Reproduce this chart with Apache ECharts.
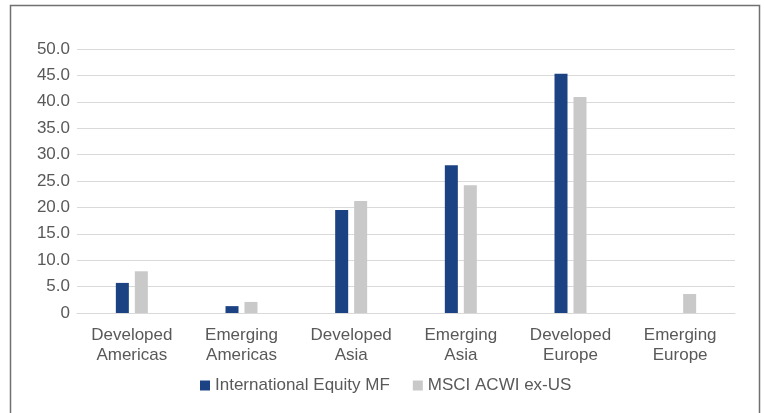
<!DOCTYPE html>
<html>
<head>
<meta charset="utf-8">
<script src="https://cdn.jsdelivr.net/npm/echarts@6/dist/echarts.min.js"></script>
<style>
  html, body { margin: 0; padding: 0; background: #fff; }
  #main { width: 765px; height: 413px; }
</style>
</head>
<body>
<div id="main"></div>
<script>
// 地区
var regions = ["Developed\nAmericas", "Emerging\nAmericas", "Developed\nAsia", "Emerging\nAsia", "Developed\nEurope", "Emerging\nEurope"];
// 系列数据
var equityMF = [5.7, 1.3, 19.5, 28.0, 45.3, 0];
var msciAcwi = [7.9, 2.1, 21.2, 24.2, 40.9, 3.6];
var seriesNames = ["International Equity MF", "MSCI ACWI ex-US"];

var myChart = echarts.init(document.getElementById("main"));
var font = "'Liberation Sans', Arial, sans-serif";
var option = {
  animation: false,
  textStyle: { fontFamily: font },
  graphic: [
    {
      type: "rect",
      shape: { x: 10.5, y: 5.5, width: 749, height: 430 },
      style: { fill: "none", stroke: "#707070", lineWidth: 1.5 },
      silent: true
    }
  ],
  legend: {
    left: 195,
    top: 372,
    itemWidth: 10,
    itemHeight: 10,
    itemGap: 23,
    icon: "rect",
    data: seriesNames,
    textStyle: { color: "#595959", fontSize: 17, fontFamily: font }
  },
  grid: {
    left: 77,
    right: 30,
    top: 49,
    bottom: 100
  },
  xAxis: {
    type: "category",
    data: regions,
    axisLine: { show: true, lineStyle: { color: "#d9d9d9", width: 1 } },
    axisTick: { show: false },
    axisLabel: {
      color: "#595959",
      fontSize: 17,
      lineHeight: 20,
      margin: 12,
      interval: 0,
      fontFamily: font
    }
  },
  yAxis: {
    type: "value",
    min: 0,
    max: 50,
    interval: 5,
    axisLine: { show: false },
    axisTick: { show: false },
    splitLine: { lineStyle: { color: "#d9d9d9", width: 1 } },
    axisLabel: {
      color: "#595959",
      fontSize: 17,
      margin: 7,
      fontFamily: font,
      formatter: function(value) {
        return value === 0 ? "0" : value.toFixed(1);
      }
    }
  },
  series: [
    {
      name: seriesNames[0],
      type: "bar",
      data: equityMF,
      barWidth: 13,
      barGap: "46%",
      itemStyle: { color: "#1b4282" }
    },
    {
      name: seriesNames[1],
      type: "bar",
      data: msciAcwi,
      barWidth: 13,
      barGap: "46%",
      itemStyle: { color: "#c9c9c9" }
    }
  ]
};
myChart.setOption(option);
</script>
</body>
</html>
